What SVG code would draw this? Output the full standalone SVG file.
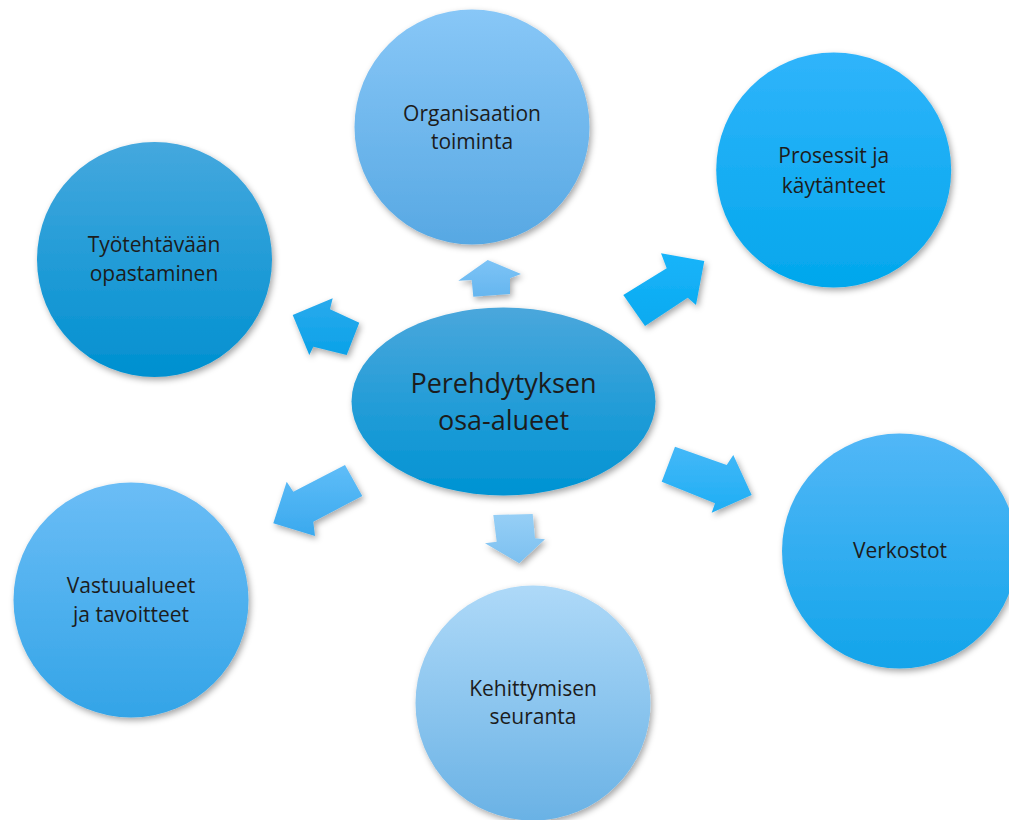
<svg xmlns="http://www.w3.org/2000/svg" width="1009" height="820" viewBox="0 0 1009 820">
<defs>
<filter id="sh" x="-20%" y="-20%" width="140%" height="140%">
<feDropShadow dx="2" dy="3" stdDeviation="3" flood-color="#000" flood-opacity="0.35"/>
</filter>
<linearGradient id="gOrg" x1="0" y1="0" x2="0" y2="1"><stop offset="0" stop-color="#88c7f7"/><stop offset="1" stop-color="#57a8e3"/></linearGradient>
<linearGradient id="gTyo" x1="0" y1="0" x2="0" y2="1"><stop offset="0" stop-color="#45a8de"/><stop offset="1" stop-color="#0090d0"/></linearGradient>
<linearGradient id="gPro" x1="0" y1="0" x2="0" y2="1"><stop offset="0" stop-color="#30b4fb"/><stop offset="1" stop-color="#02a7ec"/></linearGradient>
<linearGradient id="gVer" x1="0" y1="0" x2="0" y2="1"><stop offset="0" stop-color="#52b7f7"/><stop offset="1" stop-color="#12a4ea"/></linearGradient>
<linearGradient id="gVas" x1="0" y1="0" x2="0" y2="1"><stop offset="0" stop-color="#6bbdf6"/><stop offset="1" stop-color="#33a4e7"/></linearGradient>
<linearGradient id="gKeh" x1="0" y1="0" x2="0" y2="1"><stop offset="0" stop-color="#aed9f8"/><stop offset="1" stop-color="#6ab2e5"/></linearGradient>
<linearGradient id="gCen" x1="0" y1="0" x2="0" y2="1"><stop offset="0" stop-color="#4aa7dc"/><stop offset="1" stop-color="#0093d3"/></linearGradient>
<linearGradient id="gA1" x1="0" y1="0" x2="0" y2="1"><stop offset="0" stop-color="#2aaaed"/><stop offset="1" stop-color="#0aa2e8"/></linearGradient>
<linearGradient id="gA2" x1="0" y1="0" x2="0" y2="1"><stop offset="0" stop-color="#7cc3f6"/><stop offset="1" stop-color="#66b6ef"/></linearGradient>
<linearGradient id="gA3" x1="0" y1="0" x2="0" y2="1"><stop offset="0" stop-color="#1ab4fa"/><stop offset="1" stop-color="#08aaf0"/></linearGradient>
<linearGradient id="gA4" x1="0" y1="0" x2="0" y2="1"><stop offset="0" stop-color="#44b8f8"/><stop offset="1" stop-color="#1eaef4"/></linearGradient>
<linearGradient id="gA5" x1="0" y1="0" x2="0" y2="1"><stop offset="0" stop-color="#96cff6"/><stop offset="1" stop-color="#7cc0f0"/></linearGradient>
<linearGradient id="gA6" x1="0" y1="0" x2="0" y2="1"><stop offset="0" stop-color="#5fbdf8"/><stop offset="1" stop-color="#3aa9ee"/></linearGradient>
</defs>
<style>
.n{filter:url(#sh)}
.t{font-family:"Open Sans","Liberation Sans",sans-serif;font-size:21px;fill:#1c1c1c;text-anchor:middle}
.c{font-size:27px}
.a{filter:url(#sh)}
</style>
<rect width="1009" height="820" fill="#ffffff"/>
<g id="connectors">
<polygon class="a" fill="url(#gA1)" points="292.7,315 332.7,298.3 330,309.3 359.3,322.7 346.7,355 313.3,346.7 309.3,355"/>
<polygon class="a" fill="url(#gA2)" points="487.7,260 521,274 510,278.3 510,294 473.3,296.7 471.7,280 458.3,280.7"/>
<polygon class="a" fill="url(#gA3)" points="704.3,261 661,253.3 666.7,268.3 623.3,295 645,326 687.7,297.7 696,305"/>
<polygon class="a" fill="url(#gA4)" points="675,446.7 726.7,465 733.3,455 751.7,495 711.7,512.7 715,503.3 661.7,481.7"/>
<polygon class="a" fill="url(#gA5)" points="493.3,515 532.7,514 535,538.3 545,539.3 519.3,563.3 485,543.3 496.7,541.7"/>
<polygon class="a" fill="url(#gA6)" points="345,465 362.3,496 313.3,521.7 315,536 273.3,523.3 286.7,481.7 293.3,491.7"/>
</g>
<g id="node-organisaatio">
<circle class="n" cx="472" cy="127" r="117.5" fill="url(#gOrg)"/>
<text class="t" x="472" y="121">Organisaation</text>
<text class="t" x="472" y="149">toiminta</text>
</g>
<g id="node-tyotehtava">
<circle class="n" cx="154.5" cy="259.5" r="117.5" fill="url(#gTyo)"/>
<text class="t" x="154" y="252">Työtehtävään</text>
<text class="t" x="154" y="281">opastaminen</text>
</g>
<g id="node-prosessit">
<circle class="n" cx="833.7" cy="170" r="117.5" fill="url(#gPro)"/>
<text class="t" x="833.7" y="163">Prosessit ja</text>
<text class="t" x="833.7" y="192.5">käytänteet</text>
</g>
<g id="node-verkostot">
<circle class="n" cx="899.5" cy="551" r="117.5" fill="url(#gVer)"/>
<text class="t" x="900" y="558">Verkostot</text>
</g>
<g id="node-vastuualueet">
<circle class="n" cx="131" cy="600" r="117.5" fill="url(#gVas)"/>
<text class="t" x="131" y="593">Vastuualueet</text>
<text class="t" x="131" y="622">ja tavoitteet</text>
</g>
<g id="node-kehittyminen">
<circle class="n" cx="533" cy="703" r="117.5" fill="url(#gKeh)"/>
<text class="t" x="533" y="696">Kehittymisen</text>
<text class="t" x="533" y="724">seuranta</text>
</g>
<g id="node-center">
<ellipse class="n" cx="503.5" cy="401.5" rx="152" ry="94" fill="url(#gCen)"/>
<text class="t c" x="503.5" y="392.5">Perehdytyksen</text>
<text class="t c" x="503.5" y="430">osa-alueet</text>
</g>
</svg>
